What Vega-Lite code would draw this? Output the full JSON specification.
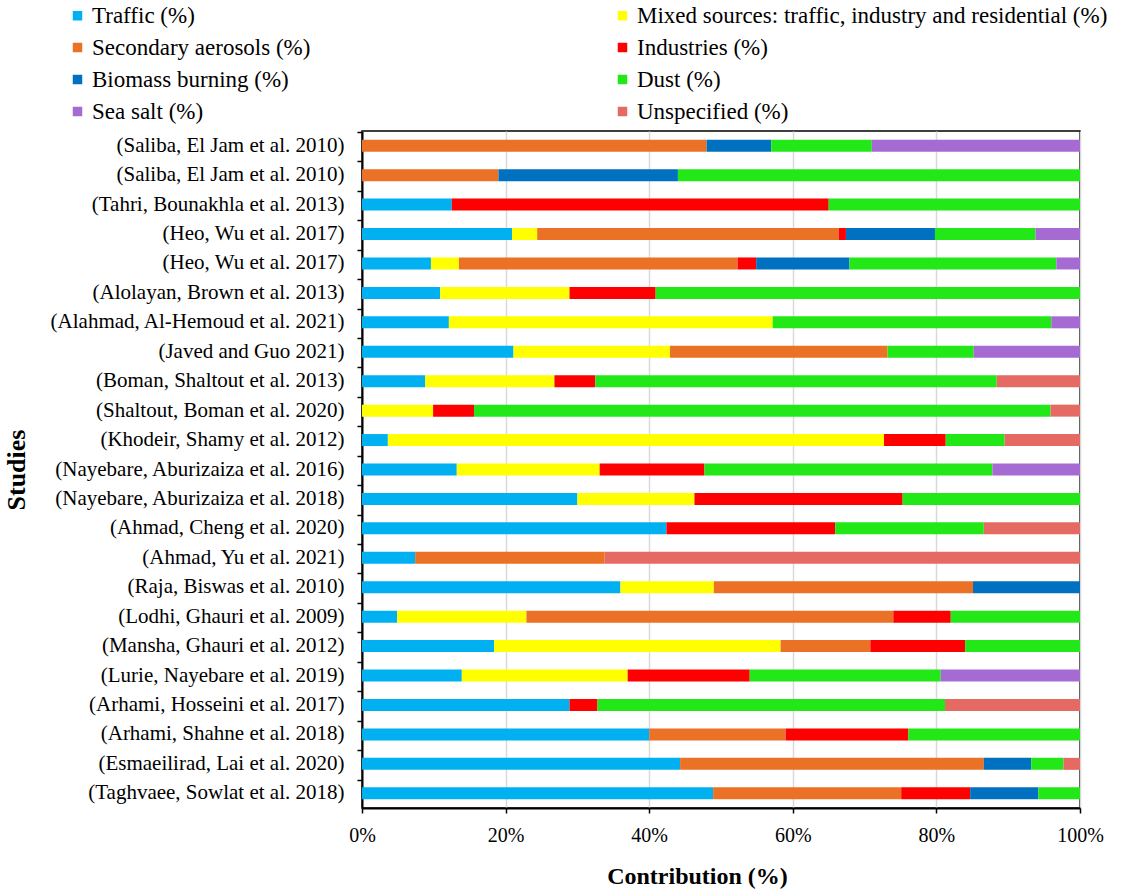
{
  "$schema": "https://vega.github.io/schema/vega-lite/v6.json",
  "width": 718,
  "height": 677,
  "autosize": {"type": "none"},
  "padding": {"left": 362, "top": 131, "right": 45, "bottom": 82},
  "background": "white",
  "config": {
    "font": "Liberation Serif",
    "view": {"stroke": "#000000", "strokeWidth": 1.5},
    "axis": {"labelColor": "#000000", "titleColor": "#000000", "labelFont": "Liberation Serif", "titleFont": "Liberation Serif"}
  },
  "datasets": {
    "sources": [
      {"source": "Traffic (%)", "rank": 1},
      {"source": "Mixed sources: traffic, industry and residential (%)", "rank": 2},
      {"source": "Secondary aerosols (%)", "rank": 3},
      {"source": "Industries (%)", "rank": 4},
      {"source": "Biomass burning (%)", "rank": 5},
      {"source": "Dust (%)", "rank": 6},
      {"source": "Sea salt (%)", "rank": 7},
      {"source": "Unspecified (%)", "rank": 8}
    ]
  },
  "data": {
    "values": [
      {"study": "(Saliba, El Jam et al. 2010)|1", "source": "Secondary aerosols (%)", "value": 48},
      {"study": "(Saliba, El Jam et al. 2010)|1", "source": "Biomass burning (%)", "value": 9},
      {"study": "(Saliba, El Jam et al. 2010)|1", "source": "Dust (%)", "value": 14},
      {"study": "(Saliba, El Jam et al. 2010)|1", "source": "Sea salt (%)", "value": 29},
      {"study": "(Saliba, El Jam et al. 2010)|2", "source": "Secondary aerosols (%)", "value": 19},
      {"study": "(Saliba, El Jam et al. 2010)|2", "source": "Biomass burning (%)", "value": 25},
      {"study": "(Saliba, El Jam et al. 2010)|2", "source": "Dust (%)", "value": 56},
      {"study": "(Tahri, Bounakhla et al. 2013)", "source": "Traffic (%)", "value": 12.5},
      {"study": "(Tahri, Bounakhla et al. 2013)", "source": "Industries (%)", "value": 52.5},
      {"study": "(Tahri, Bounakhla et al. 2013)", "source": "Dust (%)", "value": 35},
      {"study": "(Heo, Wu et al. 2017)|1", "source": "Traffic (%)", "value": 20.9},
      {"study": "(Heo, Wu et al. 2017)|1", "source": "Mixed sources: traffic, industry and residential (%)", "value": 3.5},
      {"study": "(Heo, Wu et al. 2017)|1", "source": "Secondary aerosols (%)", "value": 42},
      {"study": "(Heo, Wu et al. 2017)|1", "source": "Industries (%)", "value": 1},
      {"study": "(Heo, Wu et al. 2017)|1", "source": "Biomass burning (%)", "value": 12.4},
      {"study": "(Heo, Wu et al. 2017)|1", "source": "Dust (%)", "value": 14},
      {"study": "(Heo, Wu et al. 2017)|1", "source": "Sea salt (%)", "value": 6.2},
      {"study": "(Heo, Wu et al. 2017)|2", "source": "Traffic (%)", "value": 9.6},
      {"study": "(Heo, Wu et al. 2017)|2", "source": "Mixed sources: traffic, industry and residential (%)", "value": 3.9},
      {"study": "(Heo, Wu et al. 2017)|2", "source": "Secondary aerosols (%)", "value": 38.8},
      {"study": "(Heo, Wu et al. 2017)|2", "source": "Industries (%)", "value": 2.6},
      {"study": "(Heo, Wu et al. 2017)|2", "source": "Biomass burning (%)", "value": 13},
      {"study": "(Heo, Wu et al. 2017)|2", "source": "Dust (%)", "value": 28.8},
      {"study": "(Heo, Wu et al. 2017)|2", "source": "Sea salt (%)", "value": 3.3},
      {"study": "(Alolayan, Brown et al. 2013)", "source": "Traffic (%)", "value": 10.9},
      {"study": "(Alolayan, Brown et al. 2013)", "source": "Mixed sources: traffic, industry and residential (%)", "value": 18},
      {"study": "(Alolayan, Brown et al. 2013)", "source": "Industries (%)", "value": 12},
      {"study": "(Alolayan, Brown et al. 2013)", "source": "Dust (%)", "value": 59.1},
      {"study": "(Alahmad, Al-Hemoud et al. 2021)", "source": "Traffic (%)", "value": 12.1},
      {"study": "(Alahmad, Al-Hemoud et al. 2021)", "source": "Mixed sources: traffic, industry and residential (%)", "value": 45.1},
      {"study": "(Alahmad, Al-Hemoud et al. 2021)", "source": "Dust (%)", "value": 38.8},
      {"study": "(Alahmad, Al-Hemoud et al. 2021)", "source": "Sea salt (%)", "value": 4},
      {"study": "(Javed and Guo 2021)", "source": "Traffic (%)", "value": 21.1},
      {"study": "(Javed and Guo 2021)", "source": "Mixed sources: traffic, industry and residential (%)", "value": 21.8},
      {"study": "(Javed and Guo 2021)", "source": "Secondary aerosols (%)", "value": 30.3},
      {"study": "(Javed and Guo 2021)", "source": "Dust (%)", "value": 12},
      {"study": "(Javed and Guo 2021)", "source": "Sea salt (%)", "value": 14.8},
      {"study": "(Boman, Shaltout et al. 2013)", "source": "Traffic (%)", "value": 8.8},
      {"study": "(Boman, Shaltout et al. 2013)", "source": "Mixed sources: traffic, industry and residential (%)", "value": 18},
      {"study": "(Boman, Shaltout et al. 2013)", "source": "Industries (%)", "value": 5.7},
      {"study": "(Boman, Shaltout et al. 2013)", "source": "Dust (%)", "value": 55.9},
      {"study": "(Boman, Shaltout et al. 2013)", "source": "Unspecified (%)", "value": 11.6},
      {"study": "(Shaltout, Boman et al. 2020)", "source": "Mixed sources: traffic, industry and residential (%)", "value": 9.9},
      {"study": "(Shaltout, Boman et al. 2020)", "source": "Industries (%)", "value": 5.7},
      {"study": "(Shaltout, Boman et al. 2020)", "source": "Dust (%)", "value": 80.3},
      {"study": "(Shaltout, Boman et al. 2020)", "source": "Unspecified (%)", "value": 4.1},
      {"study": "(Khodeir, Shamy et al. 2012)", "source": "Traffic (%)", "value": 3.6},
      {"study": "(Khodeir, Shamy et al. 2012)", "source": "Mixed sources: traffic, industry and residential (%)", "value": 69.1},
      {"study": "(Khodeir, Shamy et al. 2012)", "source": "Industries (%)", "value": 8.6},
      {"study": "(Khodeir, Shamy et al. 2012)", "source": "Dust (%)", "value": 8.2},
      {"study": "(Khodeir, Shamy et al. 2012)", "source": "Unspecified (%)", "value": 10.5},
      {"study": "(Nayebare, Aburizaiza et al. 2016)", "source": "Traffic (%)", "value": 13.2},
      {"study": "(Nayebare, Aburizaiza et al. 2016)", "source": "Mixed sources: traffic, industry and residential (%)", "value": 19.9},
      {"study": "(Nayebare, Aburizaiza et al. 2016)", "source": "Industries (%)", "value": 14.6},
      {"study": "(Nayebare, Aburizaiza et al. 2016)", "source": "Dust (%)", "value": 40.1},
      {"study": "(Nayebare, Aburizaiza et al. 2016)", "source": "Sea salt (%)", "value": 12.2},
      {"study": "(Nayebare, Aburizaiza et al. 2018)", "source": "Traffic (%)", "value": 30},
      {"study": "(Nayebare, Aburizaiza et al. 2018)", "source": "Mixed sources: traffic, industry and residential (%)", "value": 16.3},
      {"study": "(Nayebare, Aburizaiza et al. 2018)", "source": "Industries (%)", "value": 29},
      {"study": "(Nayebare, Aburizaiza et al. 2018)", "source": "Dust (%)", "value": 24.7},
      {"study": "(Ahmad, Cheng et al. 2020)", "source": "Traffic (%)", "value": 42.4},
      {"study": "(Ahmad, Cheng et al. 2020)", "source": "Industries (%)", "value": 23.5},
      {"study": "(Ahmad, Cheng et al. 2020)", "source": "Dust (%)", "value": 20.7},
      {"study": "(Ahmad, Cheng et al. 2020)", "source": "Unspecified (%)", "value": 13.4},
      {"study": "(Ahmad, Yu et al. 2021)", "source": "Traffic (%)", "value": 7.4},
      {"study": "(Ahmad, Yu et al. 2021)", "source": "Secondary aerosols (%)", "value": 26.4},
      {"study": "(Ahmad, Yu et al. 2021)", "source": "Unspecified (%)", "value": 66.2},
      {"study": "(Raja, Biswas et al. 2010)", "source": "Traffic (%)", "value": 36},
      {"study": "(Raja, Biswas et al. 2010)", "source": "Mixed sources: traffic, industry and residential (%)", "value": 13},
      {"study": "(Raja, Biswas et al. 2010)", "source": "Secondary aerosols (%)", "value": 36.1},
      {"study": "(Raja, Biswas et al. 2010)", "source": "Biomass burning (%)", "value": 14.9},
      {"study": "(Lodhi, Ghauri et al. 2009)", "source": "Traffic (%)", "value": 4.9},
      {"study": "(Lodhi, Ghauri et al. 2009)", "source": "Mixed sources: traffic, industry and residential (%)", "value": 18},
      {"study": "(Lodhi, Ghauri et al. 2009)", "source": "Secondary aerosols (%)", "value": 51.1},
      {"study": "(Lodhi, Ghauri et al. 2009)", "source": "Industries (%)", "value": 8},
      {"study": "(Lodhi, Ghauri et al. 2009)", "source": "Dust (%)", "value": 18},
      {"study": "(Mansha, Ghauri et al. 2012)", "source": "Traffic (%)", "value": 18.4},
      {"study": "(Mansha, Ghauri et al. 2012)", "source": "Mixed sources: traffic, industry and residential (%)", "value": 39.9},
      {"study": "(Mansha, Ghauri et al. 2012)", "source": "Secondary aerosols (%)", "value": 12.5},
      {"study": "(Mansha, Ghauri et al. 2012)", "source": "Industries (%)", "value": 13.2},
      {"study": "(Mansha, Ghauri et al. 2012)", "source": "Dust (%)", "value": 16},
      {"study": "(Lurie, Nayebare et al. 2019)", "source": "Traffic (%)", "value": 13.9},
      {"study": "(Lurie, Nayebare et al. 2019)", "source": "Mixed sources: traffic, industry and residential (%)", "value": 23.1},
      {"study": "(Lurie, Nayebare et al. 2019)", "source": "Industries (%)", "value": 17},
      {"study": "(Lurie, Nayebare et al. 2019)", "source": "Dust (%)", "value": 26.6},
      {"study": "(Lurie, Nayebare et al. 2019)", "source": "Sea salt (%)", "value": 19.4},
      {"study": "(Arhami, Hosseini et al. 2017)", "source": "Traffic (%)", "value": 28.9},
      {"study": "(Arhami, Hosseini et al. 2017)", "source": "Industries (%)", "value": 3.9},
      {"study": "(Arhami, Hosseini et al. 2017)", "source": "Dust (%)", "value": 48.4},
      {"study": "(Arhami, Hosseini et al. 2017)", "source": "Unspecified (%)", "value": 18.8},
      {"study": "(Arhami, Shahne et al. 2018)", "source": "Traffic (%)", "value": 40},
      {"study": "(Arhami, Shahne et al. 2018)", "source": "Secondary aerosols (%)", "value": 19},
      {"study": "(Arhami, Shahne et al. 2018)", "source": "Industries (%)", "value": 17.1},
      {"study": "(Arhami, Shahne et al. 2018)", "source": "Dust (%)", "value": 23.9},
      {"study": "(Esmaeilirad, Lai et al. 2020)", "source": "Traffic (%)", "value": 44.3},
      {"study": "(Esmaeilirad, Lai et al. 2020)", "source": "Secondary aerosols (%)", "value": 42.3},
      {"study": "(Esmaeilirad, Lai et al. 2020)", "source": "Biomass burning (%)", "value": 6.6},
      {"study": "(Esmaeilirad, Lai et al. 2020)", "source": "Dust (%)", "value": 4.5},
      {"study": "(Esmaeilirad, Lai et al. 2020)", "source": "Unspecified (%)", "value": 2.3},
      {"study": "(Taghvaee, Sowlat et al. 2018)", "source": "Traffic (%)", "value": 48.9},
      {"study": "(Taghvaee, Sowlat et al. 2018)", "source": "Secondary aerosols (%)", "value": 26.2},
      {"study": "(Taghvaee, Sowlat et al. 2018)", "source": "Industries (%)", "value": 9.6},
      {"study": "(Taghvaee, Sowlat et al. 2018)", "source": "Biomass burning (%)", "value": 9.5},
      {"study": "(Taghvaee, Sowlat et al. 2018)", "source": "Dust (%)", "value": 5.8}
    ]
  },
  "transform": [
    {"lookup": "source", "from": {"data": {"name": "sources"}, "key": "source", "fields": ["rank"]}}
  ],
  "layer": [
    {
      "mark": {"type": "bar", "size": 12},
      "encoding": {
        "y": {
          "field": "study", "type": "nominal", "sort": null,
          "axis": {
            "labelExpr": "split(datum.label, '|')[0]",
            "labelFontSize": 21, "labelPadding": 18, "labelLimit": 400,
            "ticks": false, "grid": false,
            "domain": true, "domainColor": "#000000", "domainWidth": 2,
            "title": "Studies", "titleFontSize": 26, "titleFontWeight": "bold",
            "titleX": -333
          }
        },
        "x": {
          "field": "value", "type": "quantitative", "stack": "normalize",
          "scale": {"domain": [0, 1]},
          "axis": {
            "values": [0, 0.2, 0.4, 0.6, 0.8, 1], "format": ".0%",
            "labelFontSize": 20, "labelPadding": 12, "labelFlush": false,
            "tickSize": 5, "tickColor": "#000000", "tickWidth": 1.5,
            "domainColor": "#000000", "domainWidth": 2,
            "grid": true, "gridColor": "#D9D9D9", "gridWidth": 1.5,
            "title": "Contribution (%)", "titleFontSize": 24, "titleFontWeight": "bold",
            "titlePadding": 19, "titleX": 335
          }
        },
        "color": {
          "field": "source", "type": "nominal",
          "scale": {
            "domain": ["Traffic (%)", "Mixed sources: traffic, industry and residential (%)", "Secondary aerosols (%)", "Industries (%)", "Biomass burning (%)", "Dust (%)", "Sea salt (%)", "Unspecified (%)"],
            "range": ["#00B0F0", "#FFFF00", "#EB7126", "#FF0000", "#0070C0", "#23E817", "#A66BD3", "#E56A63"]
          },
          "legend": {
            "orient": "none", "legendX": -296, "legendY": -127, "direction": "horizontal",
            "columns": 2, "columnPadding": 300, "rowPadding": 8,
            "title": null, "symbolType": "square", "symbolSize": 90, "symbolStrokeWidth": 0,
            "labelFont": "Liberation Serif",
            "labelFontSize": 23, "labelOffset": 3, "labelColor": "#000000", "labelLimit": 600
          }
        },
        "order": {"field": "rank", "type": "quantitative"}
      }
    },
    {
      "mark": {"type": "rule", "opacity": 0},
      "encoding": {
        "y": {
          "field": "study", "type": "nominal", "sort": null,
          "axis": {
            "orient": "left", "labels": false, "bandPosition": 0,
            "ticks": true, "tickSize": 5, "tickColor": "#000000", "tickWidth": 1.5,
            "domain": false, "grid": false, "title": null
          }
        }
      }
    }
  ],
  "resolve": {"axis": {"y": "independent"}}
}
